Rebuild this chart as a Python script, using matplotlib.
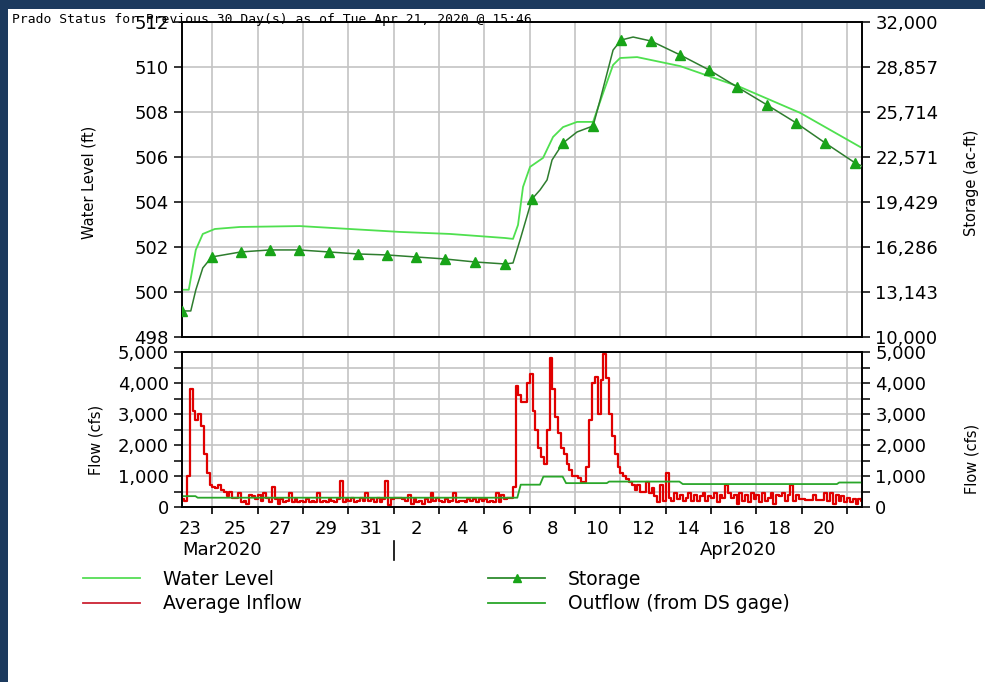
import numpy as np
import pandas as pd
import matplotlib
matplotlib.use('Agg')
from matplotlib import pyplot as plt
import matplotlib.dates as mdates
import matplotlib.transforms as mtransforms
from matplotlib.lines import Line2D
from matplotlib.patches import Rectangle
from matplotlib.ticker import FixedLocator, MultipleLocator, FuncFormatter

# time axis: days counted from Mar 22 2020 00:00
t0 = pd.Timestamp('2020-03-22 00:00')
t_start = pd.Timestamp('2020-03-22 15:46')
t_end = pd.Timestamp('2020-04-21 15:46')

# water level (ft)
wl_days = [0.657, 0.956, 1.265, 1.574, 2.104, 3.208, 5.857, 8.064, 10.272, 12.479,
           14.907, 15.260, 15.481, 15.702, 16.011, 16.585, 17.026, 17.468, 18.086,
           18.792, 19.234, 19.675, 19.985, 20.735, 22.634, 25.283, 27.932, 30.657]
wl_ft = [500.1, 500.1, 501.87, 502.58, 502.8, 502.89, 502.93, 502.8, 502.67, 502.58,
         502.4, 502.36, 502.98, 504.67, 505.56, 505.96, 506.89, 507.33, 507.56,
         507.56, 508.84, 510.09, 510.4, 510.44, 510.04, 509.11, 507.96, 506.4]

# storage (ac-ft)
st_days = [0.657, 1.044, 1.265, 1.574, 1.971, 3.252, 4.532, 5.812, 7.137, 8.417,
           9.698, 10.978, 12.258, 13.583, 14.907, 15.260, 15.570, 16.099, 16.453,
           16.762, 16.982, 17.468, 18.086, 18.792, 19.102, 19.675, 20.029, 20.559,
           21.353, 22.634, 23.914, 25.150, 26.475, 27.755, 29.035, 30.360, 30.657]
st_acft = [11820, 11820, 13280, 14820, 15590, 15940, 16080, 16080, 15940, 15800,
           15730, 15590, 15450, 15240, 15100, 15170, 16770, 19640, 20270,
           20970, 22360, 23550, 24320, 24740, 26550, 30040, 30740, 30950,
           30670, 29700, 28650, 27460, 26200, 24950, 23550, 22150, 21940]
st_markers = [0, 4, 5, 6, 7, 8, 9, 10, 11, 12, 13, 14, 17, 21, 23, 26,
              28, 29, 30, 31, 32, 33, 34, 35]

# average inflow (cfs), 3-hour steps starting Mar 22 15:00
inflow_first = '2020-03-22 15:00'
inflow_by_day = [
    [250, 200, 1000],                                   # Mar 22
    [3800, 3100, 2800, 3000, 2600, 1700, 1100, 700],    # Mar 23
    [650, 600, 700, 550, 500, 350, 480, 300],
    [300, 450, 150, 200, 100, 400, 350, 250],
    [400, 200, 450, 300, 150, 650, 250, 100],
    [250, 150, 200, 450, 150, 250, 150, 200],
    [150, 250, 150, 200, 150, 450, 150, 200],
    [150, 250, 200, 150, 250, 850, 150, 250],
    [200, 300, 150, 200, 300, 200, 450, 200],
    [250, 150, 300, 150, 250, 850, 50, 250],            # Mar 31
    [280, 280, 300, 250, 200, 400, 100, 250],           # Apr 1
    [150, 200, 100, 250, 150, 450, 200, 300],
    [200, 150, 250, 150, 200, 450, 150, 200],
    [200, 150, 250, 200, 250, 150, 250, 200],
    [250, 150, 200, 150, 450, 150, 400, 250],
    [300, 300, 650, 3900, 3600, 3400, 3400, 4000],      # Apr 6
    [4300, 3100, 2500, 1900, 1600, 1400, 2500, 4800],
    [3800, 2900, 2400, 1900, 1700, 1400, 1200, 1000],
    [1000, 950, 800, 800, 1300, 2800, 4000, 4200],
    [3000, 4100, 4950, 4150, 3000, 2300, 1700, 1300],   # Apr 10
    [1100, 1000, 900, 800, 700, 550, 700, 500],
    [500, 800, 450, 600, 350, 150, 700, 200],
    [1100, 300, 200, 450, 250, 400, 200, 300],
    [450, 200, 400, 200, 350, 450, 200, 350],
    [300, 450, 150, 400, 300, 700, 450, 300],
    [400, 100, 450, 200, 400, 150, 450, 250],
    [400, 150, 450, 200, 300, 450, 100, 400],
    [350, 450, 200, 400, 700, 200, 400, 250],
    [250, 230, 230, 230, 400, 230, 230, 230],
    [450, 200, 450, 100, 400, 200, 350, 150],           # Apr 20
    [300, 150, 250, 100, 250, 200],                     # Apr 21
]

# outflow from DS gage (cfs)
out_days = [0.657, 1.25, 1.35, 15.45, 15.6, 16.45, 16.6, 17.45, 17.6, 19.4, 19.5,
            22.6, 22.75, 29.55, 29.65, 30.657]
out_cfs = [350, 350, 300, 300, 720, 720, 980, 980, 770, 770, 820,
           820, 740, 740, 790, 790]


def when(days):
  return t0 + pd.to_timedelta(np.asarray(days, dtype=float), unit='D')


inflow = np.concatenate([np.array(r, dtype=float) for r in inflow_by_day])
inflow_t = pd.date_range(inflow_first, periods=len(inflow), freq='3h')
inflow_t = inflow_t.append(pd.DatetimeIndex([t_end]))
inflow = np.append(inflow, inflow[-1])

W, H = 985, 682
fig = plt.figure(figsize=(W / 100, H / 100), dpi=100, facecolor='#1c3a5e')
fig.patches.append(Rectangle((8 / W, 0), 1, 1 - 9 / H, transform=fig.transFigure,
                             facecolor='white', edgecolor='none', zorder=-5))

left, right = 182 / W, 862 / W
ax1 = fig.add_axes([left, 1 - 337 / H, right - left, (337 - 22) / H])
ax2 = fig.add_axes([left, 1 - 507 / H, right - left, (507 - 352) / H], sharex=ax1)

grid_c = '#c4c4c4'
tick_font = dict(family='DejaVu Sans', size=13)
label_font = dict(family='DejaVu Sans', size=10.5)

# ---- top panel
ax1.plot(when(wl_days), wl_ft, color='#4fe04f', lw=1.3, zorder=3)
ax1.set_ylim(498, 512)
ax1.yaxis.set_major_locator(MultipleLocator(2))
ax1.set_ylabel('Water Level (ft)', **label_font)
ax1.yaxis.set_label_coords(-0.125, 0.49)

ax1r = ax1.twinx()
ax1r.plot(when(st_days), st_acft, color='#2e7d2e', lw=1.1, marker='^',
          markevery=st_markers, markersize=7, markerfacecolor='#18a418',
          markeredgecolor='#18a418', zorder=4)
ax1r.set_ylim(10000, 32000)
ax1r.yaxis.set_major_locator(FixedLocator(np.linspace(10000, 32000, 8)))
ax1r.yaxis.set_major_formatter(FuncFormatter(lambda v, p: '{:,.0f}'.format(v)))
ax1r.set_ylabel('Storage (ac-ft)', **label_font)
ax1r.yaxis.set_label_coords(1.15, 0.49)

# ---- bottom panel
ax2.step(inflow_t, inflow, where='post', color='#e00000', lw=1.6, zorder=3)
ax2.plot(when(out_days), out_cfs, color='#2aa62a', lw=1.3, zorder=4)
ax2.set_ylim(0, 5000)
ax2.yaxis.set_major_locator(MultipleLocator(1000))
ax2.yaxis.set_minor_locator(MultipleLocator(500))
ax2.yaxis.set_major_formatter(FuncFormatter(lambda v, p: '{:,.0f}'.format(v)))
ax2.set_ylabel('Flow (cfs)', **label_font)
ax2.yaxis.set_label_coords(-0.115, 0.43)

ax2r = ax2.twinx()
ax2r.set_ylim(0, 5000)
ax2r.yaxis.set_major_locator(MultipleLocator(1000))
ax2r.yaxis.set_minor_locator(MultipleLocator(500))
ax2r.yaxis.set_major_formatter(FuncFormatter(lambda v, p: '{:,.0f}'.format(v)))
ax2r.set_ylabel('Flow (cfs)', **label_font)
ax2r.yaxis.set_label_coords(1.15, 0.31)

ax1.set_xlim(t_start, t_end)
ax2.xaxis.set_major_locator(FixedLocator(mdates.date2num(pd.date_range('2020-03-23', '2020-04-20', freq='2D'))))
ax2.xaxis.set_minor_locator(mdates.DayLocator())
ax2.xaxis.set_major_formatter(FuncFormatter(lambda v, p: str(mdates.num2date(v).day)))
ax1.xaxis.set_minor_locator(mdates.DayLocator())
ax1.tick_params(axis='x', which='both', length=0, labelbottom=False)
ax2.tick_params(axis='x', which='major', length=0, pad=9)
ax2.tick_params(axis='x', which='minor', length=5, width=1.2)

for a in (ax1, ax2):
  a.grid(True, axis='x', which='minor', color=grid_c, lw=1.2)
  a.set_axisbelow(True)
ax1.grid(True, axis='y', which='major', color=grid_c, lw=1.2)
ax2.grid(True, axis='y', which='both', color=grid_c, lw=1.2)

for a in (ax1, ax1r, ax2, ax2r):
  a.tick_params(axis='y', which='both', length=6, width=1.1, pad=3.5)
  for s in a.spines.values():
    s.set_linewidth(1.2)
  for lab in a.get_yticklabels() + a.get_xticklabels():
    lab.set_fontfamily(tick_font['family'])
    lab.set_fontsize(tick_font['size'])

# month labels under the date axis
trans = mtransforms.blended_transform_factory(ax2.transData, ax2.transAxes)
ax2.text(t_start, -0.275, 'Mar2020', transform=trans, ha='left', va='center', **tick_font)
ax2.text(pd.Timestamp('2020-04-16 05:00'), -0.275, 'Apr2020', transform=trans,
         ha='center', va='center', **tick_font)
ax2.add_line(Line2D([pd.Timestamp('2020-04-01')] * 2, [-0.22, -0.34], transform=trans,
                    color='black', lw=1.2, clip_on=False))

fig.text(12 / W, 1 - 23 / H, 'Prado Status for Previous 30 Day(s) as of Tue Apr 21, 2020 @ 15:46',
         family='DejaVu Sans Mono', size=9.4, ha='left', va='baseline', zorder=1)

# legend
h_wl = Line2D([], [], color='#55dd55', lw=1.3)
h_in = Line2D([], [], color='#cc2233', lw=1.3)
h_st = Line2D([], [], color='#2e8b2e', lw=1.3, marker='^', markersize=6,
              markerfacecolor='#18a418', markeredgecolor='#18a418')
h_out = Line2D([], [], color='#2aa62a', lw=1.3)
leg_kw = dict(loc='upper left', frameon=False, handlelength=3.05,
              handletextpad=1.2, labelspacing=0.28, borderpad=0, borderaxespad=0,
              prop={'family': 'DejaVu Sans', 'size': 13.5})
fig.legend([h_wl, h_in], ['Water Level', 'Average Inflow'],
           bbox_to_anchor=(83 / W, 1 - 570 / H), **leg_kw)
fig.legend([h_st, h_out], ['Storage', 'Outflow (from DS gage)'],
           bbox_to_anchor=(488 / W, 1 - 570 / H), **leg_kw)

fig.savefig('out.png', dpi=100, facecolor=fig.get_facecolor())
